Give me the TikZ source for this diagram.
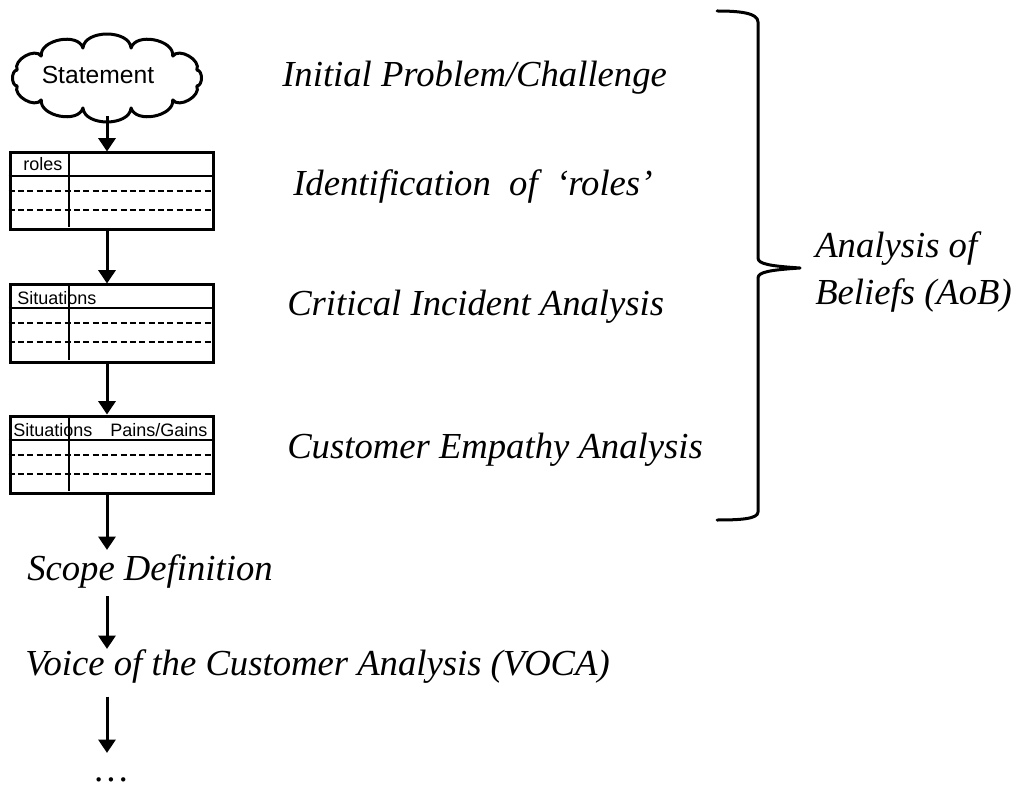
\documentclass[tikz,border=0pt]{standalone}
\usepackage{fontspec}
\setmainfont{Liberation Serif}
\newfontfamily\arialf{Liberation Sans}
\usetikzlibrary{arrows.meta}
\begin{document}
\begin{tikzpicture}[x=0.75pt,y=-0.75pt,
  lbl/.style={font=\fontsize{27.5}{33}\selectfont\itshape,inner sep=0pt,anchor=base west},
  tbl/.style={draw,line width=2.25pt,minimum width=152.25pt,minimum height=57.75pt,inner sep=0pt},
  thin/.style={line width=1.5pt},
  dsh/.style={line width=1.5pt,dash pattern=on 4.5pt off 2.5pt},
  arr/.style={line width=2.25pt,-{Triangle[width=12.75pt,length=10pt]}},
  cell/.style={font=\arialf\fontsize{13.5}{15}\selectfont,inner sep=0pt,anchor=base west},
  puff/.style={line width=2.25pt,line join=round}
]
\useasboundingbox (0,0) rectangle (1019,787);
\coordinate (ax) at (107,0);

% cloud
\node[minimum width=146pt,minimum height=57pt,inner sep=0pt] (cloud) at (107,78) {};
\draw[puff] ({107+93*cos(15)},{78+31*sin(15)})
  \foreach \k in {1,...,12}{ to[bend left=85] ({107+93*cos(15+\k*30)},{78+31*sin(15+\k*30)}) } -- cycle;
\node[font=\arialf\fontsize{18.5}{20}\selectfont,inner sep=0pt] (stmt) at (98,75) {Statement};

% tables
\foreach \n/\cy in {t1/191.5,t2/323.5,t3/454.5}{
  \node[tbl] (\n) at (111.5,\cy) {};
  \draw[thin] ([yshift=-18.75pt]\n.north west) -- ([yshift=-18.75pt]\n.north east);
  \draw[dsh] ([yshift=-30pt]\n.north west) -- ([yshift=-30pt]\n.north east);
  \draw[dsh] ([yshift=-44.25pt]\n.north west) -- ([yshift=-44.25pt]\n.north east);
  \draw[thin] ([xshift=45pt]\n.north west) -- ([xshift=45pt,yshift=3pt]\n.south west);
}
\node[cell] (c1) at (23,171) {roles};
\node[cell] (c2) at (17,305) {Situations};
\node[cell] (c3) at (13,436) {Situations};
\node[cell] (c4) at (110,436) {Pains/Gains};

% labels
\node[lbl] (l1) at (282,87) {Initial Problem/Challenge};
\node[lbl] (l2) at (293,196) {Identification\ \ of\ \ ‘roles’};
\node[lbl] (l3) at (287,316) {Critical Incident Analysis};
\node[lbl] (l4) at (287,458) {Customer Empathy Analysis};
\node[lbl] (scope) at (27,580) {Scope Definition};
\node[lbl] (voca) at (25,675) {Voice of the Customer Analysis (VOCA)};
\node[lbl] (dots) at (95,781) {…};
\node[lbl] (aob1) at (815,258) {Analysis of};
\node[lbl] (aob2) at (815,305) {Beliefs (AoB)};

% arrows
\draw[arr] (cloud.south -| ax) -- (t1.north -| ax);
\draw[arr] (t1.south -| ax) -- (t2.north -| ax);
\draw[arr] (t2.south -| ax) -- (t3.north -| ax);
\draw[arr] (t3.south -| ax) -- ([yshift=3pt]scope.north -| ax);
\draw[arr,shorten <=6pt] (scope.south -| ax) -- (voca.north -| ax);
\draw[arr,shorten <=10pt] (voca.south -| ax) -- ([yshift=18pt]dots.north -| ax);

% brace
\draw[line width=2.25pt,line cap=round,line join=round]
  (717,11) .. controls (740,11) and (758,13) .. (758,22)
  -- (758,258) .. controls (758,264) and (770,266) .. (800,268)
  .. controls (770,270) and (758,272) .. (758,278)
  -- (758,512) .. controls (758,519) and (740,520) .. (717,520);
\end{tikzpicture}
\end{document}
